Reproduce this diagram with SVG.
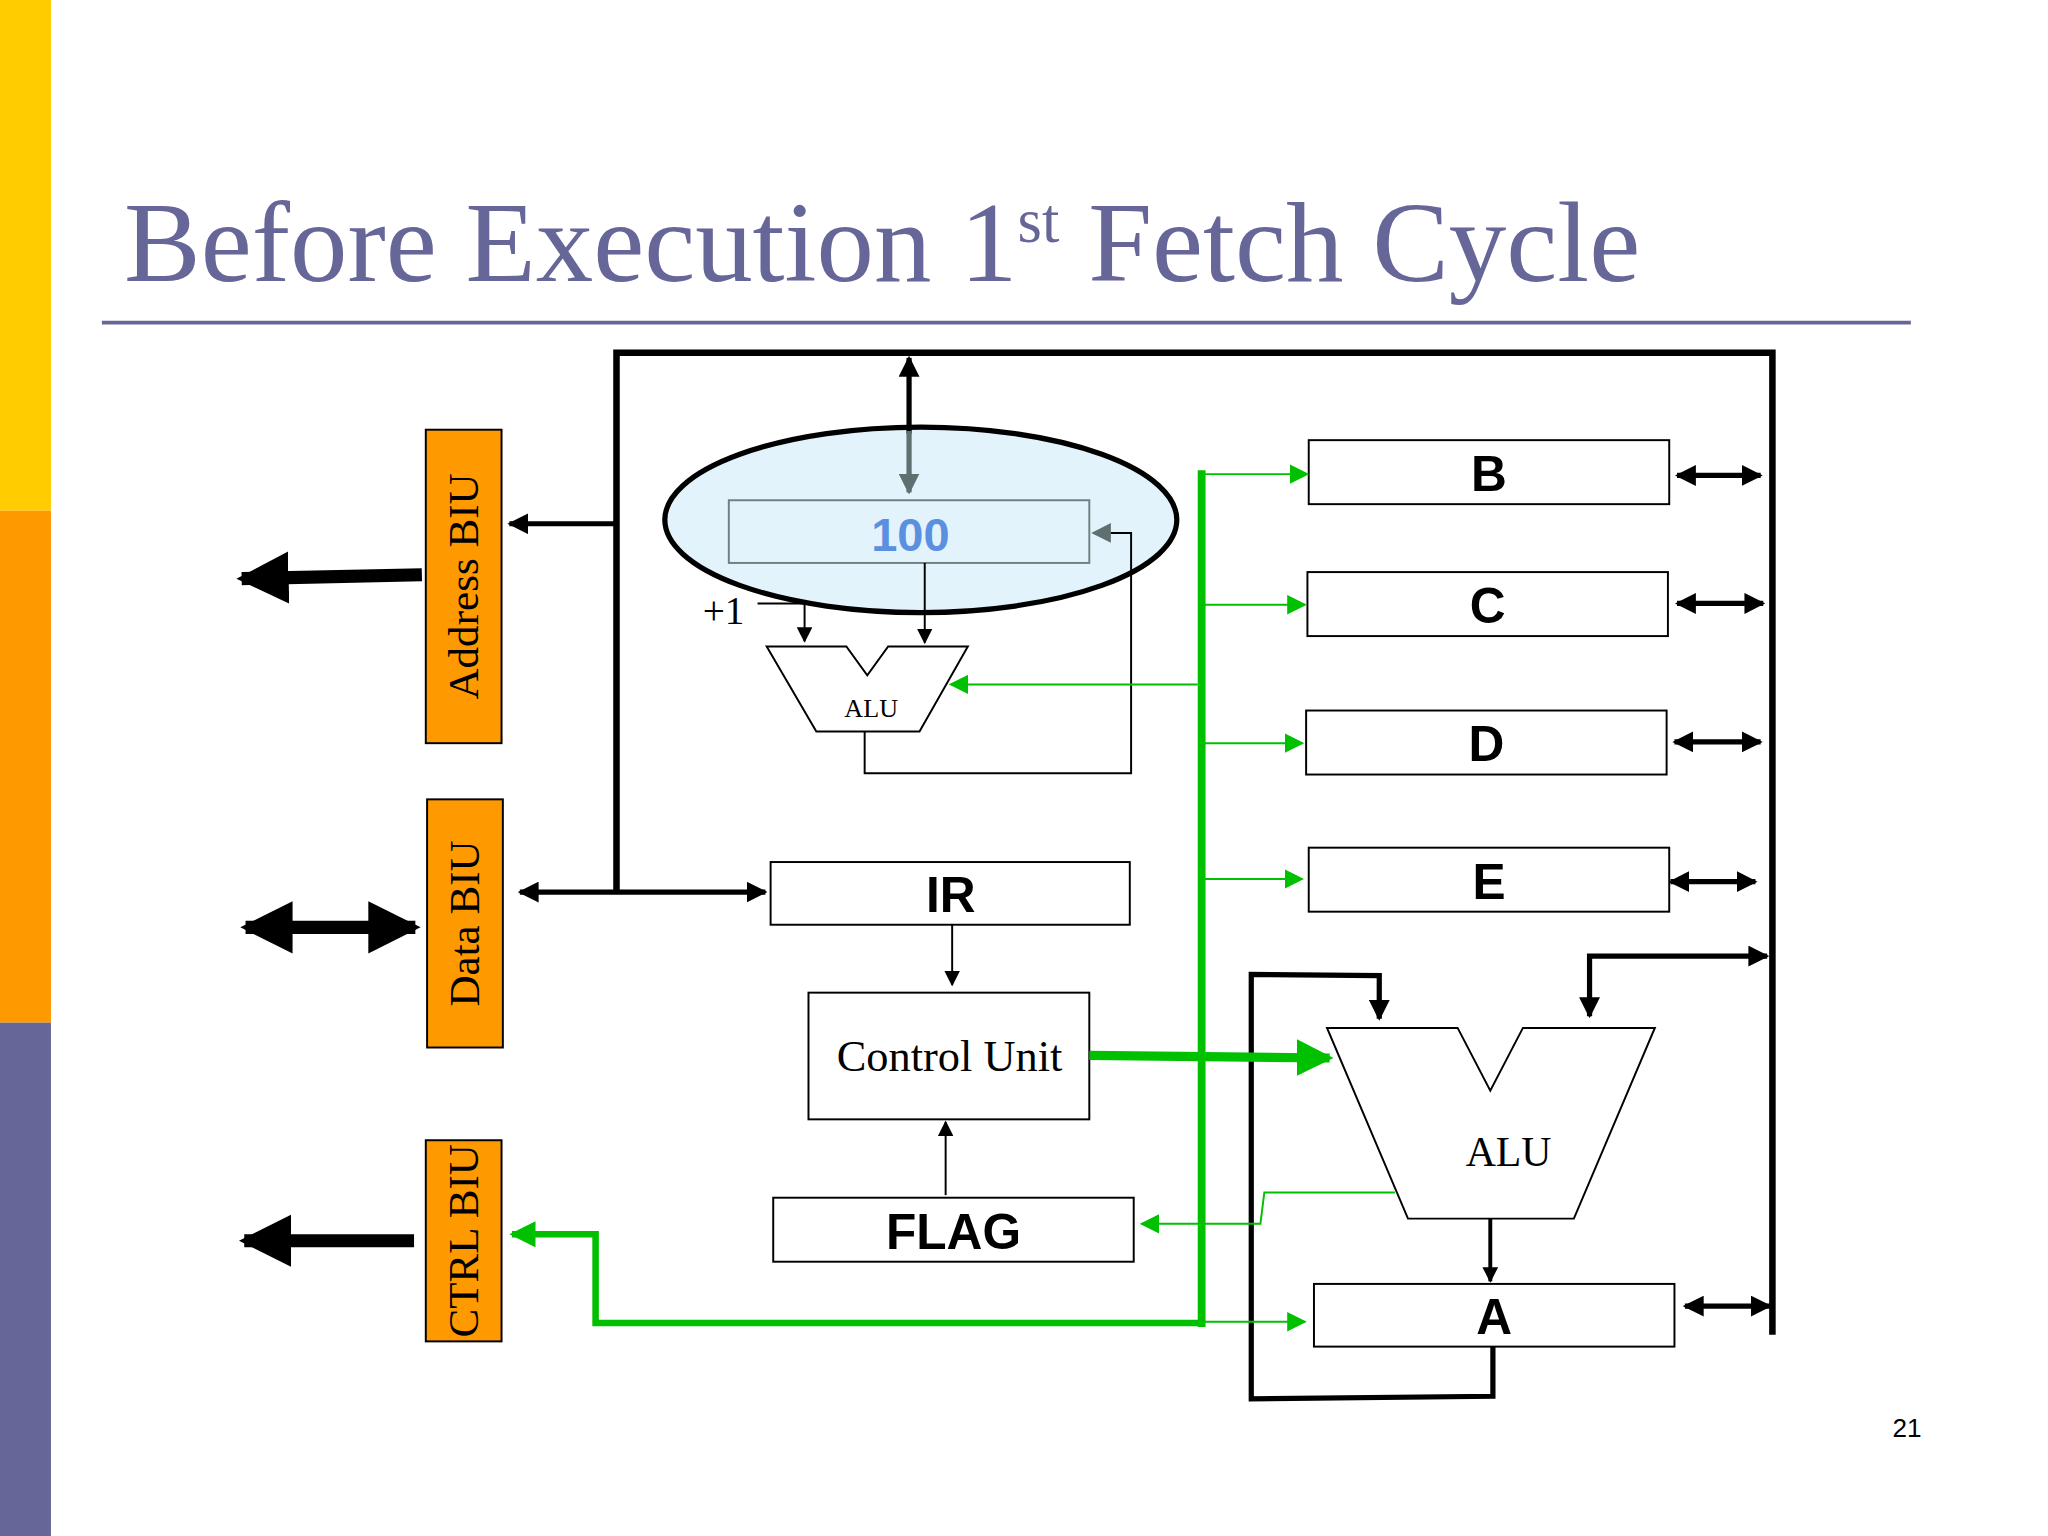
<svg xmlns="http://www.w3.org/2000/svg" width="2048" height="1536" viewBox="0 0 2048 1536">
<defs>
<marker id="ab" viewBox="0 0 10 10" refX="9" refY="5" markerWidth="4" markerHeight="4" orient="auto-start-reverse"><path d="M0,0L10,5L0,10z" fill="#000"/></marker>
<marker id="abs" viewBox="0 0 10 10" refX="9" refY="5" markerWidth="8" markerHeight="8" orient="auto-start-reverse"><path d="M0,0L10,5L0,10z" fill="#000"/></marker>
<marker id="ag" viewBox="0 0 10 10" refX="9" refY="5" markerWidth="10" markerHeight="10" orient="auto"><path d="M0,0L10,5L0,10z" fill="#00c000"/></marker>
<marker id="agb" viewBox="0 0 10 10" refX="9" refY="5" markerWidth="4" markerHeight="4" orient="auto"><path d="M0,0L10,5L0,10z" fill="#00c000"/></marker>
<marker id="agr" viewBox="0 0 10 10" refX="9" refY="5" markerWidth="10" markerHeight="10" orient="auto"><path d="M0,0L10,5L0,10z" fill="#607070"/></marker>
<marker id="agr4" viewBox="0 0 10 10" refX="9" refY="5" markerWidth="4" markerHeight="4" orient="auto"><path d="M0,0L10,5L0,10z" fill="#607070"/></marker>
<marker id="big" viewBox="0 0 10 10" refX="9" refY="5" markerWidth="4" markerHeight="5" orient="auto-start-reverse"><path d="M0,0L10,5L0,10z" fill="#000"/></marker>
</defs>
<style>
.reg{fill:#fff;stroke:#000;stroke-width:1.5}
.biu{fill:#ff9900;stroke:#000;stroke-width:1.5}
.rl{font-family:"Liberation Sans",Arial,sans-serif;font-weight:bold;font-size:38px;text-anchor:middle}
.sr{font-family:"Liberation Serif","Times New Roman",serif}
.k{fill:none;stroke:#000}
.g{fill:none;stroke:#00c000}
</style>
<g transform="scale(1.306122)">
<g id="sidebar">
<rect x="0" y="0" width="39" height="391" fill="#ffcc00"/>
<rect x="0" y="391" width="39" height="392" fill="#ff9900"/>
<rect x="0" y="783" width="39" height="393" fill="#666699"/>
</g>
<g id="title">
<text x="95" y="215" class="sr" font-size="88" fill="#666699">Before Execution 1<tspan font-size="48" dy="-30">st</tspan><tspan dy="30"> Fetch Cycle</tspan></text>
<line x1="78" y1="247" x2="1463" y2="247" stroke="#666699" stroke-width="3"/>
</g>
<g id="pc">
<ellipse cx="705" cy="398" rx="196" ry="71" fill="#e3f3fc" stroke="#000" stroke-width="4"/>
<rect x="558" y="383" width="276" height="48" fill="none" stroke="#708080" stroke-width="1.5"/>
<text x="697" y="422" font-family="Liberation Sans,Arial,sans-serif" font-weight="bold" font-size="36" fill="#5b8fe0" text-anchor="middle">100</text>
</g>
<g id="plus1"><text x="538" y="478" class="sr" font-size="30">+1</text></g>
<g id="alu-small">
<polygon points="587,495 648,495 664,517 680,495 741,495 704,560 625,560" fill="#fff" stroke="#000" stroke-width="1.5"/>
<text x="667" y="549" class="sr" font-size="20" text-anchor="middle">ALU</text>
</g>
<g id="address-biu"><rect class="biu" x="326" y="329" width="58" height="240"/>
<text transform="translate(366,449) rotate(-90)" class="sr" font-size="33" text-anchor="middle">Address BIU</text></g>
<g id="data-biu"><rect class="biu" x="327" y="612" width="58" height="190"/>
<text transform="translate(367,707) rotate(-90)" class="sr" font-size="33" text-anchor="middle">Data BIU</text></g>
<g id="ctrl-biu"><rect class="biu" x="326" y="873" width="58" height="154"/>
<text transform="translate(366,950) rotate(-90)" class="sr" font-size="33" text-anchor="middle">CTRL BIU</text></g>
<g id="ir"><rect class="reg" x="590" y="660" width="275" height="48"/><text x="728" y="698" class="rl">IR</text></g>
<g id="cu"><rect class="reg" x="619" y="760" width="215" height="97"/><text x="727" y="820" class="sr" font-size="34" text-anchor="middle">Control Unit</text></g>
<g id="flag"><rect class="reg" x="592" y="917" width="276" height="49"/><text x="730" y="956" class="rl">FLAG</text></g>
<g id="b"><rect class="reg" x="1002" y="337" width="276" height="49"/><text x="1140" y="376" class="rl">B</text></g>
<g id="c"><rect class="reg" x="1001" y="438" width="276" height="49"/><text x="1139" y="477" class="rl">C</text></g>
<g id="d"><rect class="reg" x="1000" y="544" width="276" height="49"/><text x="1138" y="583" class="rl">D</text></g>
<g id="e"><rect class="reg" x="1002" y="649" width="276" height="49"/><text x="1140" y="688" class="rl">E</text></g>
<g id="a"><rect class="reg" x="1006" y="983" width="276" height="48"/><text x="1144" y="1021" class="rl">A</text></g>
<g id="alu-big">
<polygon points="1016,787 1116,787 1141,835 1166,787 1267,787 1205,933 1078,933" fill="#fff" stroke="#000" stroke-width="1.5"/>
<text x="1155" y="893" class="sr" font-size="32" text-anchor="middle">ALU</text>
</g>
<g id="connectors">
<path class="k" stroke-width="5" d="M472,683V270H1357V1022"/>
<line class="k" stroke-width="4" x1="472" y1="401" x2="390" y2="401" marker-end="url(#ab)"/>
<line class="k" stroke-width="4" x1="398" y1="683" x2="586" y2="683" marker-start="url(#ab)" marker-end="url(#ab)"/>
<line class="k" stroke-width="10" x1="323" y1="440" x2="185" y2="443" marker-end="url(#big)"/>
<line class="k" stroke-width="10" x1="188" y1="710" x2="318" y2="710" marker-start="url(#big)" marker-end="url(#big)"/>
<line class="k" stroke-width="10" x1="317" y1="950" x2="187" y2="950" marker-end="url(#big)"/>
<line class="k" stroke-width="4" x1="696" y1="274" x2="696" y2="332" marker-start="url(#ab)"/>
<line stroke="#607070" stroke-width="4" x1="696" y1="330" x2="696" y2="377" marker-end="url(#agr4)"/>
<path class="k" stroke-width="1.5" d="M580,462H616V491" marker-end="url(#abs)"/>
<line class="k" stroke-width="1.5" x1="708" y1="431" x2="708" y2="492" marker-end="url(#abs)"/>
<path fill="none" stroke="#000" stroke-width="1.5" d="M662,560V592H866V408H850"/>
<line stroke="#607070" stroke-width="1.5" x1="850" y1="408" x2="837" y2="408" marker-end="url(#agr)"/>
<line class="k" stroke-width="1.5" x1="729" y1="708" x2="729" y2="754" marker-end="url(#abs)"/>
<line class="k" stroke-width="1.5" x1="724" y1="915" x2="724" y2="859" marker-end="url(#abs)"/>
<line class="k" stroke-width="3" x1="1141" y1="933" x2="1141" y2="981" marker-end="url(#ab)"/>
<path class="k" stroke-width="4" d="M1143,1031V1069L958,1071V746L1056,747V780" marker-end="url(#ab)"/>
<path class="k" stroke-width="4" d="M1217,778V732H1353" marker-start="url(#ab)" marker-end="url(#ab)"/>
<g stroke-width="4">
<line class="k" x1="1284" y1="364" x2="1348" y2="364" marker-start="url(#ab)" marker-end="url(#ab)"/>
<line class="k" x1="1284" y1="462" x2="1350" y2="462" marker-start="url(#ab)" marker-end="url(#ab)"/>
<line class="k" x1="1282" y1="568" x2="1348" y2="568" marker-start="url(#ab)" marker-end="url(#ab)"/>
<line class="k" x1="1279" y1="675" x2="1344" y2="675" marker-start="url(#ab)" marker-end="url(#ab)"/>
<line class="k" x1="1290" y1="1000" x2="1355" y2="1000" marker-start="url(#ab)" marker-end="url(#ab)"/>
</g>
<line class="g" stroke-width="6" x1="920" y1="360" x2="920" y2="1016"/>
<path class="g" stroke-width="5" d="M920,1013H456V945H392" marker-end="url(#agb)"/>
<g stroke-width="1.5">
<line class="g" x1="920" y1="363" x2="1001" y2="363" marker-end="url(#ag)"/>
<line class="g" x1="920" y1="463" x2="999" y2="463" marker-end="url(#ag)"/>
<line class="g" x1="920" y1="569" x2="997" y2="569" marker-end="url(#ag)"/>
<line class="g" x1="920" y1="673" x2="997" y2="673" marker-end="url(#ag)"/>
<line class="g" x1="920" y1="1012" x2="999" y2="1012" marker-end="url(#ag)"/>
<line class="g" x1="917" y1="524" x2="728" y2="524" marker-end="url(#ag)"/>
<path class="g" d="M1068,913H968L965,937H874" marker-end="url(#ag)"/>
</g>
<line class="g" stroke-width="7" x1="834" y1="808" x2="1018" y2="810" marker-end="url(#agb)"/>
</g>
<g id="page"><text x="1460" y="1100" font-family="Liberation Sans,Arial,sans-serif" font-size="20" text-anchor="middle">21</text></g>
</g>
</svg>
